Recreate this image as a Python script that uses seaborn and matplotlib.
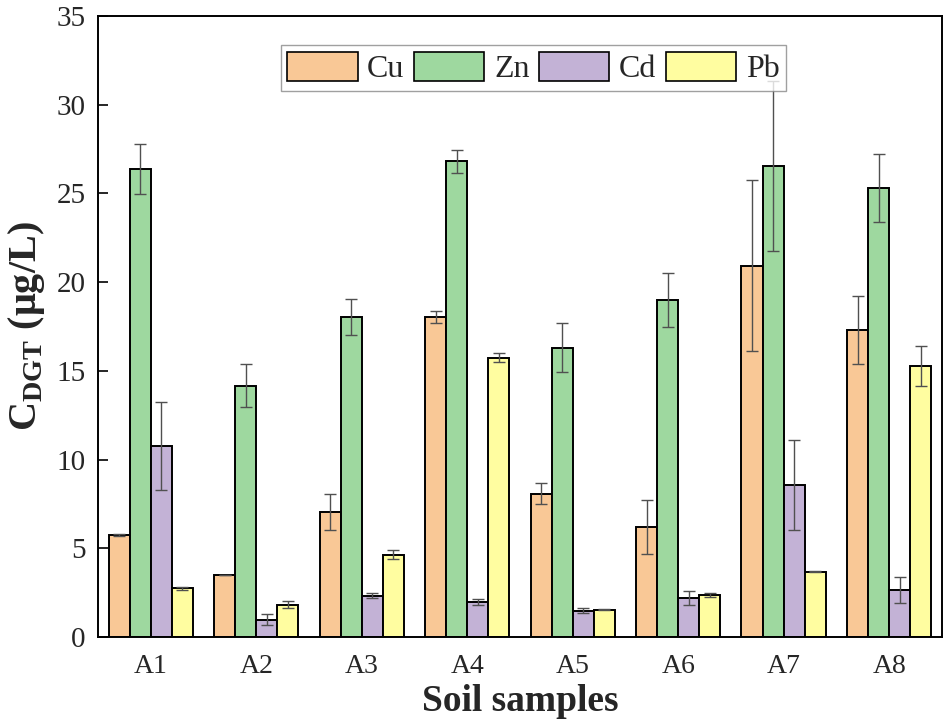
import numpy as np
import pandas as pd
import matplotlib
matplotlib.use("Agg")
import matplotlib.pyplot as plt
import seaborn as sns
from matplotlib.patches import Patch

# Soil samples and the DGT-measured concentrations (µg/L) of each metal
samples = ["A1", "A2", "A3", "A4", "A5", "A6", "A7", "A8"]
metals = ["Cu", "Zn", "Cd", "Pb"]

cu = [5.75, 3.50, 7.05, 18.04, 8.08, 6.20, 20.93, 17.30]
zn = [26.38, 14.17, 18.02, 26.82, 16.31, 19.01, 26.53, 25.31]
cd = [10.77, 0.98, 2.33, 1.97, 1.48, 2.22, 8.57, 2.67]
pb = [2.74, 1.82, 4.64, 15.75, 1.54, 2.35, 3.68, 15.29]

# standard deviations
cu_sd = [0.05, 0.02, 1.00, 0.34, 0.60, 1.50, 4.80, 1.93]
zn_sd = [1.43, 1.20, 1.00, 0.65, 1.37, 1.53, 4.79, 1.92]
cd_sd = [2.46, 0.32, 0.13, 0.15, 0.14, 0.39, 2.55, 0.73]
pb_sd = [0.10, 0.20, 0.26, 0.24, 0.03, 0.12, 0.03, 1.13]

colors = ["#F9C896", "#9ED89F", "#C3B2D6", "#FFFDA0"]

means = {"Cu": cu, "Zn": zn, "Cd": cd, "Pb": pb}
sds = {"Cu": cu_sd, "Zn": zn_sd, "Cd": cd_sd, "Pb": pb_sd}

df = pd.DataFrame(
    [(s, m, means[m][i], sds[m][i]) for m in metals for i, s in enumerate(samples)],
    columns=["sample", "metal", "value", "sd"],
)

sns.set_style("ticks")
plt.rcParams["font.family"] = ["Liberation Serif", "DejaVu Serif"]
plt.rcParams["mathtext.fontset"] = "custom"
plt.rcParams["mathtext.rm"] = "Liberation Serif"
plt.rcParams["mathtext.bf"] = "Liberation Serif:bold"

fig = plt.figure(figsize=(9.44, 7.24), dpi=100)
ax = fig.add_axes([0.1038, 0.1202, 0.894, 0.8578])

sns.barplot(
    data=df, x="sample", y="value", hue="metal",
    order=samples, hue_order=metals, palette=colors,
    saturation=1, errorbar=None, width=0.8,
    edgecolor="black", linewidth=1.4, legend=False, ax=ax,
)

# error bars centred on each bar
for cont, m in zip(ax.containers, metals):
    xs = [b.get_x() + b.get_width() / 2 for b in cont]
    ys = [b.get_height() for b in cont]
    ax.errorbar(xs, ys, yerr=sds[m], fmt="none", ecolor="#505050",
                elinewidth=1.0, capsize=4.3, capthick=1.0, zorder=3)

ax.set_ylim(0, 35)
ax.set_xlim(-0.5, 7.5)
ax.set_yticks(np.arange(0, 36, 5))

for sp in ax.spines.values():
    sp.set_visible(True)
    sp.set_color("black")
    sp.set_linewidth(1.4)

ax.tick_params(axis="y", direction="in", length=7, width=1.4,
               labelsize=21, pad=9, right=False)
ax.tick_params(axis="x", length=0, labelsize=20, pad=12)

ax.set_xlabel("Soil samples", fontsize=27, fontweight="bold", labelpad=4)
ax.set_ylabel(r"C$_{\mathbf{DGT}}$ (μg/L)", fontsize=29, fontweight="bold",
              labelpad=7)

handles = [Patch(facecolor=c, edgecolor="black", linewidth=1.2, label=m)
           for c, m in zip(colors, metals)]
leg = ax.legend(
    handles=handles, loc="upper center", bbox_to_anchor=(0.516, 0.953),
    ncol=4, fontsize=23, frameon=True, fancybox=False,
    handlelength=2.2, handleheight=1.05, handletextpad=0.3,
    columnspacing=0.3, borderpad=0.2, borderaxespad=0,
)
leg.get_frame().set_edgecolor("#888888")
leg.get_frame().set_linewidth(1.0)
leg.set_zorder(5)

fig.savefig("out.png", dpi=100)
